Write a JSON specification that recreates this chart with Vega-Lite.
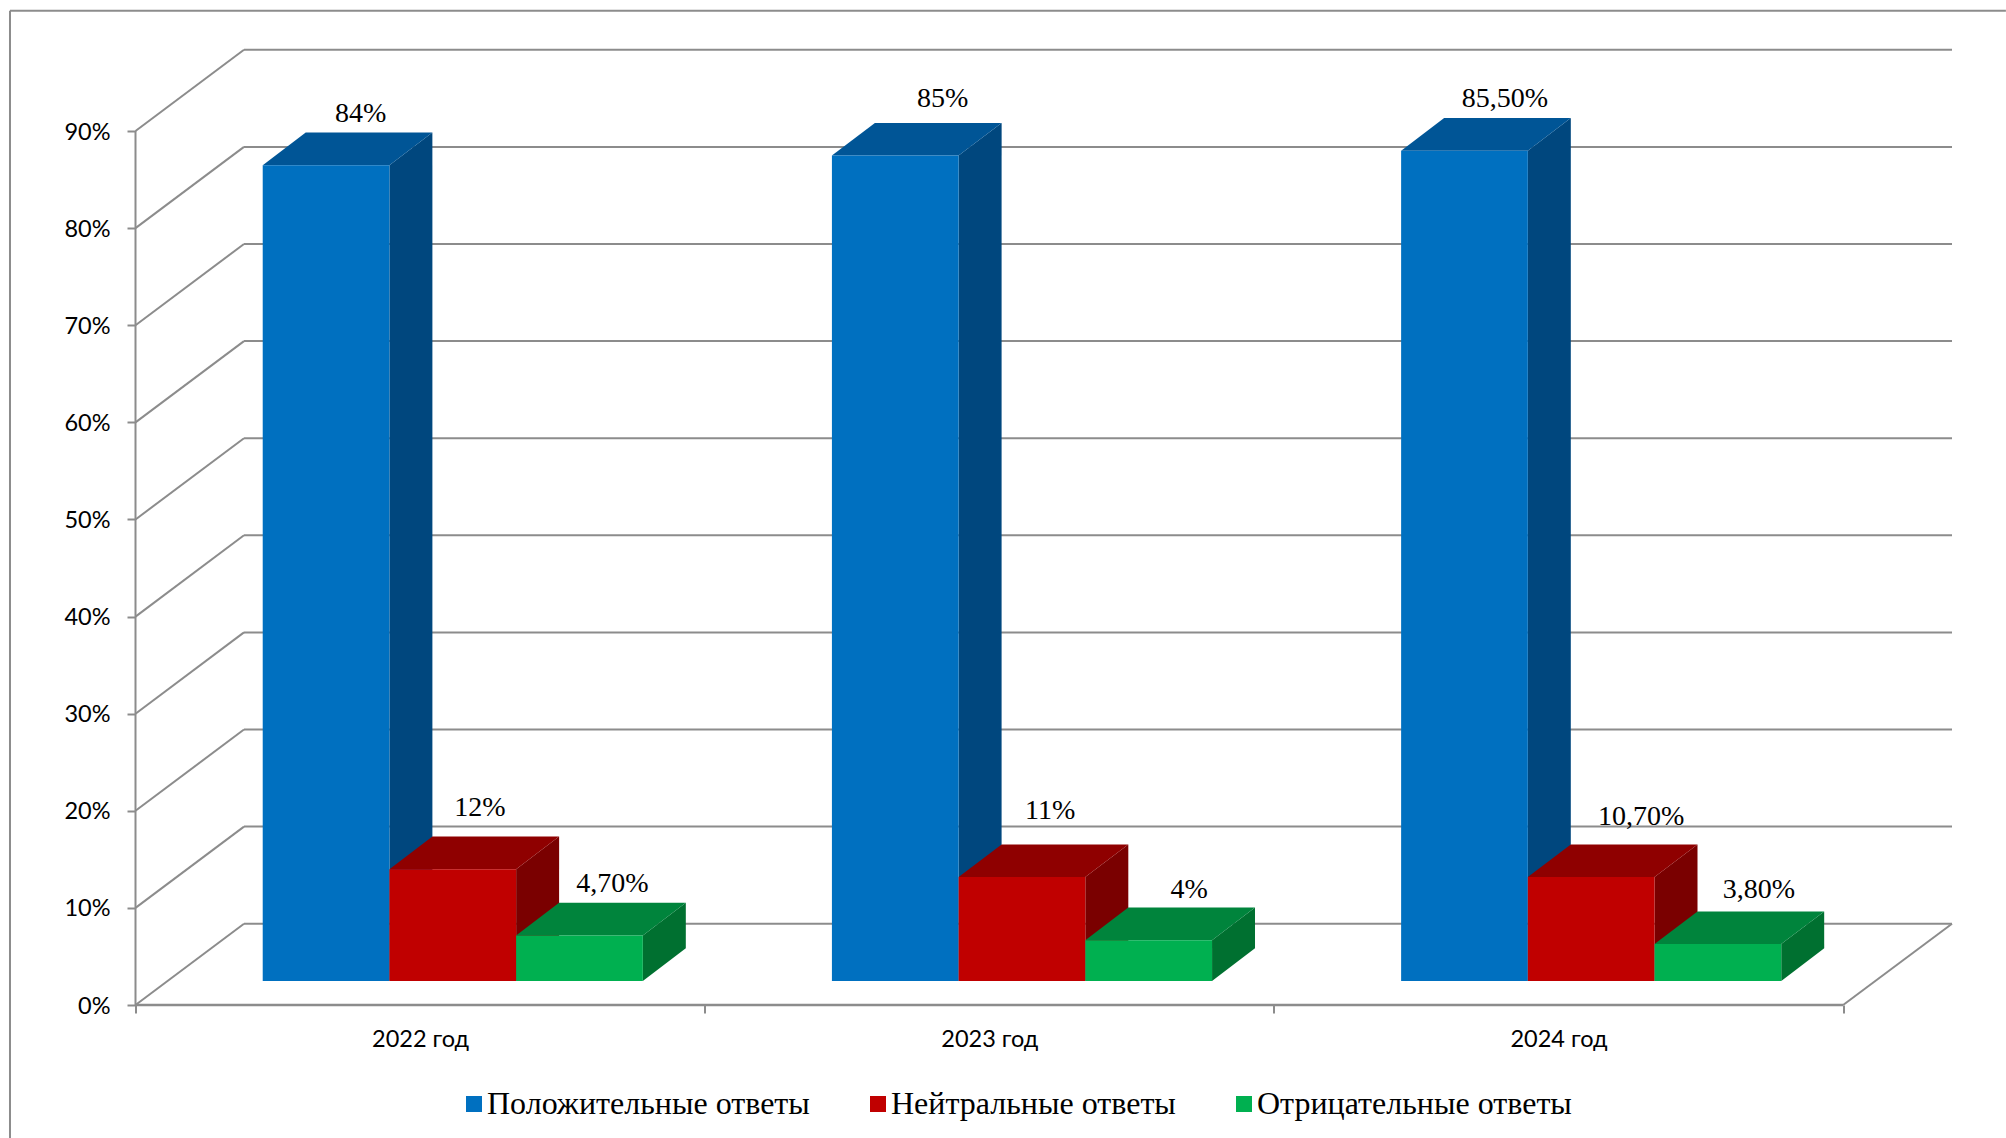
{
"$schema":"https://vega.github.io/schema/vega-lite/v6.json",
"width":1816.5,"height":956,
"padding":{"left":135.5,"top":49,"right":54,"bottom":133},
"autosize":{"type":"none"},
"background":"white",
"view":{"stroke":null},
"datasets":{
"answers":[
{"year":"2022 год","series":"Положительные ответы","value":84,"label":"84%"},
{"year":"2022 год","series":"Нейтральные ответы","value":11.5,"label":"12%"},
{"year":"2022 год","series":"Отрицательные ответы","value":4.7,"label":"4,70%"},
{"year":"2023 год","series":"Положительные ответы","value":85,"label":"85%"},
{"year":"2023 год","series":"Нейтральные ответы","value":10.7,"label":"11%"},
{"year":"2023 год","series":"Отрицательные ответы","value":4.2,"label":"4%"},
{"year":"2024 год","series":"Положительные ответы","value":85.5,"label":"85,50%"},
{"year":"2024 год","series":"Нейтральные ответы","value":10.7,"label":"10,70%"},
{"year":"2024 год","series":"Отрицательные ответы","value":3.8,"label":"3,80%"}
],
"levels":[{"level":0},{"level":10},{"level":20},{"level":30},{"level":40},{"level":50},{"level":60},{"level":70},{"level":80},{"level":90}],
"one":[{"note":"frame"}]
},
"layer":[
{"data":{"name":"levels"},"transform":[{"calculate":"datum.level+8.37","as":"back"}],
"mark":{"type":"rule","color":"#8c8c8c","strokeWidth":2},
"encoding":{
"x":{"datum":0.1906,"type":"quantitative","scale":{"domain":[0,3.1913],"nice":false,"zero":false},
"axis":{"title":null,"domain":false,"grid":false,"values":[0,0.5,1,1.5,2,2.5,3],"labelExpr":"datum.value==0.5?'2022 год':datum.value==1.5?'2023 год':datum.value==2.5?'2024 год':''","labelOverlap":false,"labelFlush":false,"labelFont":"Lato","labelFontSize":23.5,"labelColor":"#000000","labelPadding":14,"tickSize":8,"tickWidth":2,"tickColor":"#8c8c8c","tickOpacity":{"condition":{"test":"datum.value%1==0","value":1},"value":0}}},
"x2":{"datum":3.1913},
"y":{"field":"back","type":"quantitative","scale":{"domain":[0,98.45],"nice":false,"zero":false},
"axis":{"title":null,"domain":false,"grid":false,"values":[0,10,20,30,40,50,60,70,80,90],"labelExpr":"datum.value+'%'","labelFont":"Lato","labelFontSize":23.5,"labelColor":"#000000","labelPadding":17,"labelOffset":1,"labelOverlap":false,"labelFlush":false,"tickSize":8.5,"tickWidth":2,"tickColor":"#8c8c8c"}}
}},
{"data":{"name":"levels"},"transform":[{"calculate":"datum.level+8.37","as":"back"}],
"mark":{"type":"rule","color":"#8c8c8c","strokeWidth":2},
"encoding":{
"x":{"datum":0,"type":"quantitative","scale":{"domain":[0,3.1913],"nice":false,"zero":false},"axis":{"title":null}},
"x2":{"datum":0.1906},
"y":{"field":"level","type":"quantitative","scale":{"domain":[0,98.45],"nice":false,"zero":false},"axis":{"title":null}},
"y2":{"field":"back"}
}},
{"data":{"name":"one"},"mark":{"type":"rule","color":"#8c8c8c","strokeWidth":2},
"encoding":{
"x":{"datum":0,"type":"quantitative","scale":{"domain":[0,3.1913],"nice":false,"zero":false},"axis":{"title":null}},
"y":{"datum":0,"type":"quantitative","scale":{"domain":[0,98.45],"nice":false,"zero":false},"axis":{"title":null}},
"y2":{"datum":90}
}},
{"data":{"name":"one"},"mark":{"type":"rule","color":"#8c8c8c","strokeWidth":2.5},
"encoding":{
"x":{"datum":0,"type":"quantitative","scale":{"domain":[0,3.1913],"nice":false,"zero":false},"axis":{"title":null}},
"x2":{"datum":3},
"y":{"datum":0,"type":"quantitative","scale":{"domain":[0,98.45],"nice":false,"zero":false},"axis":{"title":null}}
}},
{"data":{"name":"one"},"mark":{"type":"rule","color":"#8c8c8c","strokeWidth":2},
"encoding":{
"x":{"datum":3,"type":"quantitative","scale":{"domain":[0,3.1913],"nice":false,"zero":false},"axis":{"title":null}},
"x2":{"datum":3.1913},
"y":{"datum":0,"type":"quantitative","scale":{"domain":[0,98.45],"nice":false,"zero":false},"axis":{"title":null}},
"y2":{"datum":8.37}
}},
{"data":{"name":"one"},"mark":{"type":"rule","color":"#8c8c8c","strokeWidth":2},
"encoding":{
"x":{"datum":-0.2205,"type":"quantitative","scale":{"domain":[0,3.1913],"nice":false,"zero":false},"axis":{"title":null}},
"x2":{"datum":3.286},
"y":{"datum":102.4,"type":"quantitative","scale":{"domain":[0,98.45],"nice":false,"zero":false},"axis":{"title":null}}
}},
{"data":{"name":"one"},"mark":{"type":"rule","color":"#8c8c8c","strokeWidth":2},
"encoding":{
"x":{"datum":-0.2205,"type":"quantitative","scale":{"domain":[0,3.1913],"nice":false,"zero":false},"axis":{"title":null}},
"y":{"datum":102.4,"type":"quantitative","scale":{"domain":[0,98.45],"nice":false,"zero":false},"axis":{"title":null}},
"y2":{"datum":-13.7}
}},
{"data":{"name":"answers"},
"transform":[
{"calculate":"indexof(['2022 год','2023 год','2024 год'],datum.year)+0.2235+0.2226*indexof(['Положительные ответы','Нейтральные ответы','Отрицательные ответы'],datum.series)","as":"x0"},
{"calculate":"datum.x0+0.2226","as":"x1"},
{"calculate":"2.47+datum.value","as":"top"},
{"calculate":"2.47","as":"base"}
],
"layer":[
{"transform":[{"calculate":"[0,1]","as":"t"},{"flatten":["t"]},
{"calculate":"datum.x1+datum.t*0.0755","as":"sx"},
{"calculate":"datum.top+datum.t*3.37","as":"su"},
{"calculate":"datum.base+datum.t*3.37","as":"sl"}],
"mark":{"type":"area","interpolate":"linear","orient":"vertical"},
"encoding":{
"x":{"field":"sx","type":"quantitative","scale":{"domain":[0,3.1913],"nice":false,"zero":false},"axis":{"title":null}},
"y":{"field":"su","type":"quantitative","scale":{"domain":[0,98.45],"nice":false,"zero":false},"axis":{"title":null}},
"y2":{"field":"sl"},
"detail":{"field":"label"},
"fill":{"field":"series","type":"nominal","scale":{"domain":["Положительные ответы","Нейтральные ответы","Отрицательные ответы"],"range":["#00477e","#7a0000","#007030"]},"legend":null}
}},
{"transform":[
{"calculate":"[datum.x0,datum.x0+0.0755,datum.x1,datum.x1+0.0755]","as":"tx"},
{"calculate":"[datum.top,datum.top,datum.top,datum.top+3.37]","as":"tl"},
{"calculate":"[datum.top,datum.top+3.37,datum.top+3.37,datum.top+3.37]","as":"tu"},
{"flatten":["tx","tl","tu"]}],
"mark":{"type":"area","interpolate":"linear","orient":"vertical"},
"encoding":{
"x":{"field":"tx","type":"quantitative","scale":{"domain":[0,3.1913],"nice":false,"zero":false},"axis":{"title":null}},
"y":{"field":"tu","type":"quantitative","scale":{"domain":[0,98.45],"nice":false,"zero":false},"axis":{"title":null}},
"y2":{"field":"tl"},
"detail":{"field":"label"},
"fill":{"field":"series","type":"nominal","scale":{"domain":["Положительные ответы","Нейтральные ответы","Отрицательные ответы"],"range":["#005596","#8f0000","#00843c"]},"legend":null}
}},
{"mark":{"type":"rect"},
"encoding":{
"x":{"field":"x0","type":"quantitative","scale":{"domain":[0,3.1913],"nice":false,"zero":false},"axis":{"title":null}},
"x2":{"field":"x1"},
"y":{"field":"top","type":"quantitative","scale":{"domain":[0,98.45],"nice":false,"zero":false},"axis":{"title":null}},
"y2":{"field":"base"},
"color":{"field":"series","type":"nominal","scale":{"domain":["Положительные ответы","Нейтральные ответы","Отрицательные ответы"],"range":["#0070c0","#c00000","#00b050"]},
"legend":{"title":null,"orient":"none","legendX":322.5,"legendY":1039,"direction":"horizontal","columns":3,"columnPadding":52,"symbolType":"square","symbolSize":256,"symbolStrokeWidth":0,"labelFont":"Liberation Serif","labelFontSize":32,"labelColor":"#000000","labelOffset":-3,"labelLimit":500}}
}},
{"transform":[
{"calculate":"{'84%':0.3957,'85%':1.418,'85,50%':2.406,'12%':0.605,'11%':1.607,'10,70%':2.645,'4,70%':0.838,'4%':1.851,'3,80%':2.852}[datum.label]","as":"lx"},
{"calculate":"{'84%':91.8,'85%':93.3,'85,50%':93.3,'12%':20.3,'11%':20.0,'10,70%':19.4,'4,70%':12.5,'4%':11.85,'3,80%':11.85}[datum.label]","as":"ly"}],
"mark":{"type":"text","font":"Liberation Serif","fontSize":28,"color":"#000000","align":"center","baseline":"middle"},
"encoding":{
"x":{"field":"lx","type":"quantitative","scale":{"domain":[0,3.1913],"nice":false,"zero":false},"axis":{"title":null}},
"y":{"field":"ly","type":"quantitative","scale":{"domain":[0,98.45],"nice":false,"zero":false},"axis":{"title":null}},
"text":{"field":"label"}
}}
],
"resolve":{"scale":{"fill":"independent"}}
}
],
"resolve":{"scale":{"fill":"independent"}}
}
